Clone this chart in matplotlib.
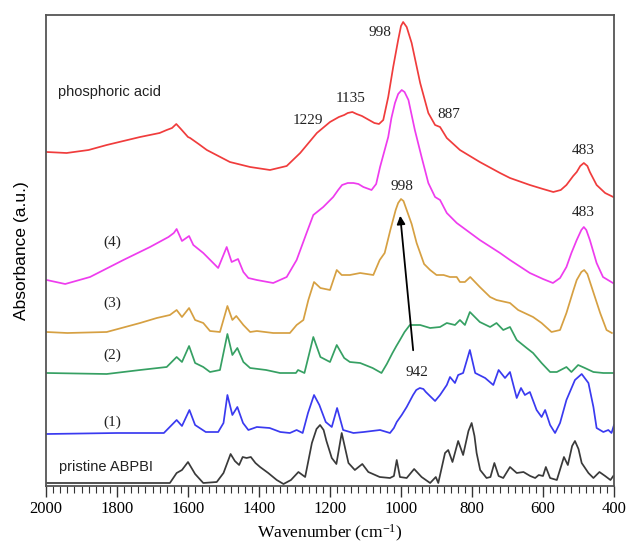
import matplotlib
matplotlib.use("Agg")
import matplotlib.pyplot as plt
from matplotlib.ticker import MultipleLocator

plt.rcParams['mathtext.default'] = 'regular'

# ---- data (wavenumber, absorbance in a.u. with stacking offsets) ----
red_wn = [1998, 1942, 1880, 1829, 1735, 1680, 1660, 1645, 1633, 1620, 1600, 1594, 1570, 1547, 1482,
          1425, 1369, 1322, 1284, 1237, 1200, 1175, 1160, 1150, 1137, 1125, 1110, 1095, 1075, 1062,
          1050, 1036, 1022, 1008, 1000, 994, 984, 970, 958, 946, 923, 904, 890, 871, 834, 778, 721,
          693, 637, 600, 571, 550, 534, 515, 505, 495, 485, 475, 468, 449, 425, 402]
red_ab = [334, 333, 336, 341, 349, 353, 356, 358, 362, 357, 349, 348, 342, 336, 324,
          319, 316, 320, 333, 353, 364, 369, 371, 373, 374, 372, 370, 367, 363, 362,
          366, 389, 419, 446, 460, 464, 459, 443, 423, 403, 373, 361, 359, 348, 336, 324, 313,
          308, 301, 297, 294, 296, 301, 310, 314, 320, 323, 320, 314, 301, 293, 289]

mag_wn = [1998, 1946, 1876, 1782, 1707, 1655, 1640, 1632, 1617, 1597, 1585, 1557, 1515, 1491, 1477,
          1459, 1444, 1430, 1406, 1360, 1322, 1294, 1266, 1247, 1219, 1191, 1177, 1166, 1150, 1134,
          1120, 1106, 1083, 1070, 1059, 1036, 1027, 1017, 1008, 998, 990, 979, 961, 942, 923, 904,
          890, 871, 843, 778, 721, 693, 637, 600, 572, 552, 534, 520, 505, 492, 485, 478, 468, 449,
          431, 403]
mag_ab = [206, 202, 209, 226, 239, 249, 253, 257, 245, 250, 241, 233, 218, 239, 224,
          227, 214, 208, 206, 203, 209, 226, 253, 271, 279, 289, 296, 301, 303, 303,
          302, 299, 296, 302, 319, 349, 368, 383, 392, 396, 394, 386, 356, 329, 303, 289,
          286, 273, 263, 246, 233, 226, 213, 207, 203, 208, 219, 233, 246, 256, 259, 256, 246, 223,
          209, 203]

ora_wn = [1998, 1940, 1829, 1735, 1688, 1651, 1632, 1617, 1597, 1580, 1557, 1538, 1510, 1489, 1475,
          1464, 1444, 1425, 1406, 1360, 1313, 1294, 1275, 1261, 1245, 1227, 1200, 1181, 1167, 1144,
          1115, 1078, 1060, 1046, 1030, 1015, 1008, 1000, 993, 985, 970, 956, 935, 918, 900, 880, 862,
          843, 834, 820, 805, 778, 749, 731, 693, 670, 628, 604, 576, 552, 534, 515, 505, 492, 484,
          475, 463, 439, 421, 406]
ora_ab = [154, 153, 154, 163, 168, 171, 176, 169, 178, 166, 163, 155, 154, 180, 166,
          170, 161, 154, 155, 153, 153, 161, 166, 186, 204, 198, 196, 216, 211, 211,
          213, 211, 226, 233, 256, 276, 283, 287, 285, 277, 262, 243, 222, 216, 211, 211, 209,
          209, 204, 204, 209, 199, 189, 186, 183, 176, 169, 163, 154, 156, 173, 195, 206, 214, 216,
          212, 199, 173, 156, 153]

gre_wn = [1998, 1829, 1735, 1660, 1632, 1617, 1597, 1580, 1557, 1538, 1510, 1489, 1475, 1461, 1444,
          1425, 1380, 1341, 1296, 1290, 1272, 1247, 1227, 1200, 1181, 1160, 1144, 1115, 1080, 1055,
          1040, 1024, 1013, 1003, 990, 975, 946, 918, 890, 871, 848, 834, 820, 806, 778, 749, 731,
          712, 693, 674, 646, 628, 604, 580, 561, 534, 520, 501, 482, 458, 430, 402]
gre_ab = [113, 112, 116, 119, 129, 124, 140, 123, 119, 114, 116, 152, 131, 138, 124,
          118, 116, 113, 113, 116, 113, 149, 129, 124, 141, 128, 124, 123, 118, 113,
          122, 133, 140, 146, 154, 161, 161, 158, 159, 163, 161, 166, 161, 174, 164, 159, 163,
          156, 159, 146, 138, 133, 123, 114, 114, 119, 114, 121, 118, 114, 113, 113]

blu_wn = [1998, 1800, 1668, 1632, 1617, 1596, 1580, 1550, 1515, 1500, 1489, 1475, 1461, 1445, 1430,
          1406, 1370, 1340, 1313, 1294, 1277, 1262, 1245, 1230, 1212, 1195, 1180, 1163, 1134, 1105,
          1059, 1031, 1020, 1012, 998, 984, 966, 957, 947, 937, 930, 904, 890, 871, 862, 848, 839,
          825, 806, 791, 763, 740, 725, 707, 693, 674, 662, 651, 637, 618, 604, 594, 580, 566, 552,
          534, 510, 491, 472, 458, 449, 430, 416, 407, 400]
blu_ab = [52, 53, 53, 66, 60, 76, 61, 54, 54, 63, 91, 71, 79, 63, 56,
          59, 58, 54, 53, 56, 53, 73, 91, 81, 64, 59, 78, 56, 53, 54,
          56, 53, 58, 64, 71, 79, 91, 96, 98, 97, 94, 85, 91, 101, 109, 103, 111,
          113, 136, 113, 108, 101, 116, 108, 114, 88, 98, 91, 94, 76, 69, 76, 61, 53, 63,
          86, 106, 112, 103, 79, 58, 54, 56, 53, 61]

blk_wn = [1998, 1800, 1700, 1651, 1632, 1617, 1600, 1580, 1557, 1519, 1500, 1480, 1468, 1456, 1446,
          1435, 1423, 1410, 1397, 1374, 1350, 1331, 1310, 1289, 1270, 1251, 1238, 1228, 1218, 1210,
          1195, 1182, 1167, 1148, 1130, 1109, 1092, 1060, 1031, 1020, 1012, 1003, 984, 963, 942, 918,
          902, 895, 876, 867, 855, 839, 825, 810, 801, 793, 787, 777, 759, 748, 737, 725, 712, 693,
          674, 655, 636, 622, 612, 600, 592, 580, 561, 541, 530, 518, 510, 500, 491, 472, 458, 441,
          425, 410, 402]
blk_ab = [3, 3, 3, 3, 13, 16, 24, 12, 3, 4, 13, 32, 25, 21, 29,
          28, 29, 23, 19, 13, 6, 2, 6, 14, 9, 43, 57, 61, 56, 45,
          28, 22, 53, 23, 16, 22, 14, 9, 8, 10, 26, 9, 8, 17, 9, 3,
          9, 3, 33, 36, 24, 45, 31, 55, 63, 50, 33, 16, 8, 9, 23, 10, 8, 19,
          13, 14, 10, 8, 11, 10, 19, 8, 6, 29, 21, 40, 45, 37, 23, 13, 8, 14,
          10, 6, 10]

series = [
    (red_wn, red_ab, '#f03c3c'),
    (mag_wn, mag_ab, '#ee3cee'),
    (ora_wn, ora_ab, '#d6a042'),
    (gre_wn, gre_ab, '#36a063'),
    (blu_wn, blu_ab, '#3a3af0'),
    (blk_wn, blk_ab, '#3a3a3a'),
]

curve_labels = [("phosphoric acid", 1966, 394, 'sans'),
                ("(4)", 1814, 244, 'serif'),
                ("(3)", 1814, 183, 'serif'),
                ("(2)", 1814, 131, 'serif'),
                ("(1)", 1814, 64, 'serif'),
                ("pristine ABPBI", 1963, 19, 'sans')]

peak_labels = [("998", 1059, 454), ("1135", 1142, 388), ("1229", 1261, 366),
               ("887", 866, 371), ("483", 488, 336), ("998", 996, 299),
               ("483", 488, 273), ("942", 956, 114)]

arrow_from = (965, 133)
arrow_to = (1003, 273)

# ---- figure ----
fig = plt.figure(figsize=(6.28, 5.54), dpi=100)
ax = fig.add_axes([46/628, 68/554, 568/628, 471/554])

for wn, ab, c in series:
    ax.plot(wn, ab, color=c, lw=1.25, solid_joinstyle='round')

ax.set_xlim(2000, 400)
ax.set_ylim(0, 471)

serif = ['Liberation Serif', 'DejaVu Serif']
sans = ['Liberation Sans', 'DejaVu Sans']

for txt, x, y, fam in curve_labels:
    if fam == 'sans':
        ax.text(x, y, txt, ha='left', va='center', fontsize=10.5, family=sans, color='#222222')
    else:
        ax.text(x, y, txt, ha='center', va='center', fontsize=11, family=serif, color='#222222')

for txt, x, y in peak_labels:
    ax.text(x, y, txt, ha='center', va='center', fontsize=11, family=serif, color='#222222')

ax.annotate('', xy=arrow_to, xytext=arrow_from,
            arrowprops=dict(arrowstyle='-|>', color='black', lw=1.3, mutation_scale=12))

ax.xaxis.set_major_locator(MultipleLocator(200))
ax.xaxis.set_minor_locator(MultipleLocator(20))
ax.tick_params(axis='x', which='major', direction='out', length=8, width=1.0,
               labelsize=12, pad=3, colors='#333333')
ax.tick_params(axis='x', which='minor', direction='out', length=5, width=0.8, colors='#333333')
ax.tick_params(axis='y', left=False, labelleft=False)
for lbl in ax.get_xticklabels():
    lbl.set_family(serif)
    lbl.set_color('black')

for s in ax.spines.values():
    s.set_color('#555555')
    s.set_linewidth(1.3)

ax.set_xlabel('Wavenumber (cm$^{-1}$)', fontsize=12.5, family=serif, labelpad=4)
ax.set_ylabel('Absorbance (a.u.)', fontsize=12.5, family=sans, labelpad=12)

fig.savefig('out.png', dpi=100)
